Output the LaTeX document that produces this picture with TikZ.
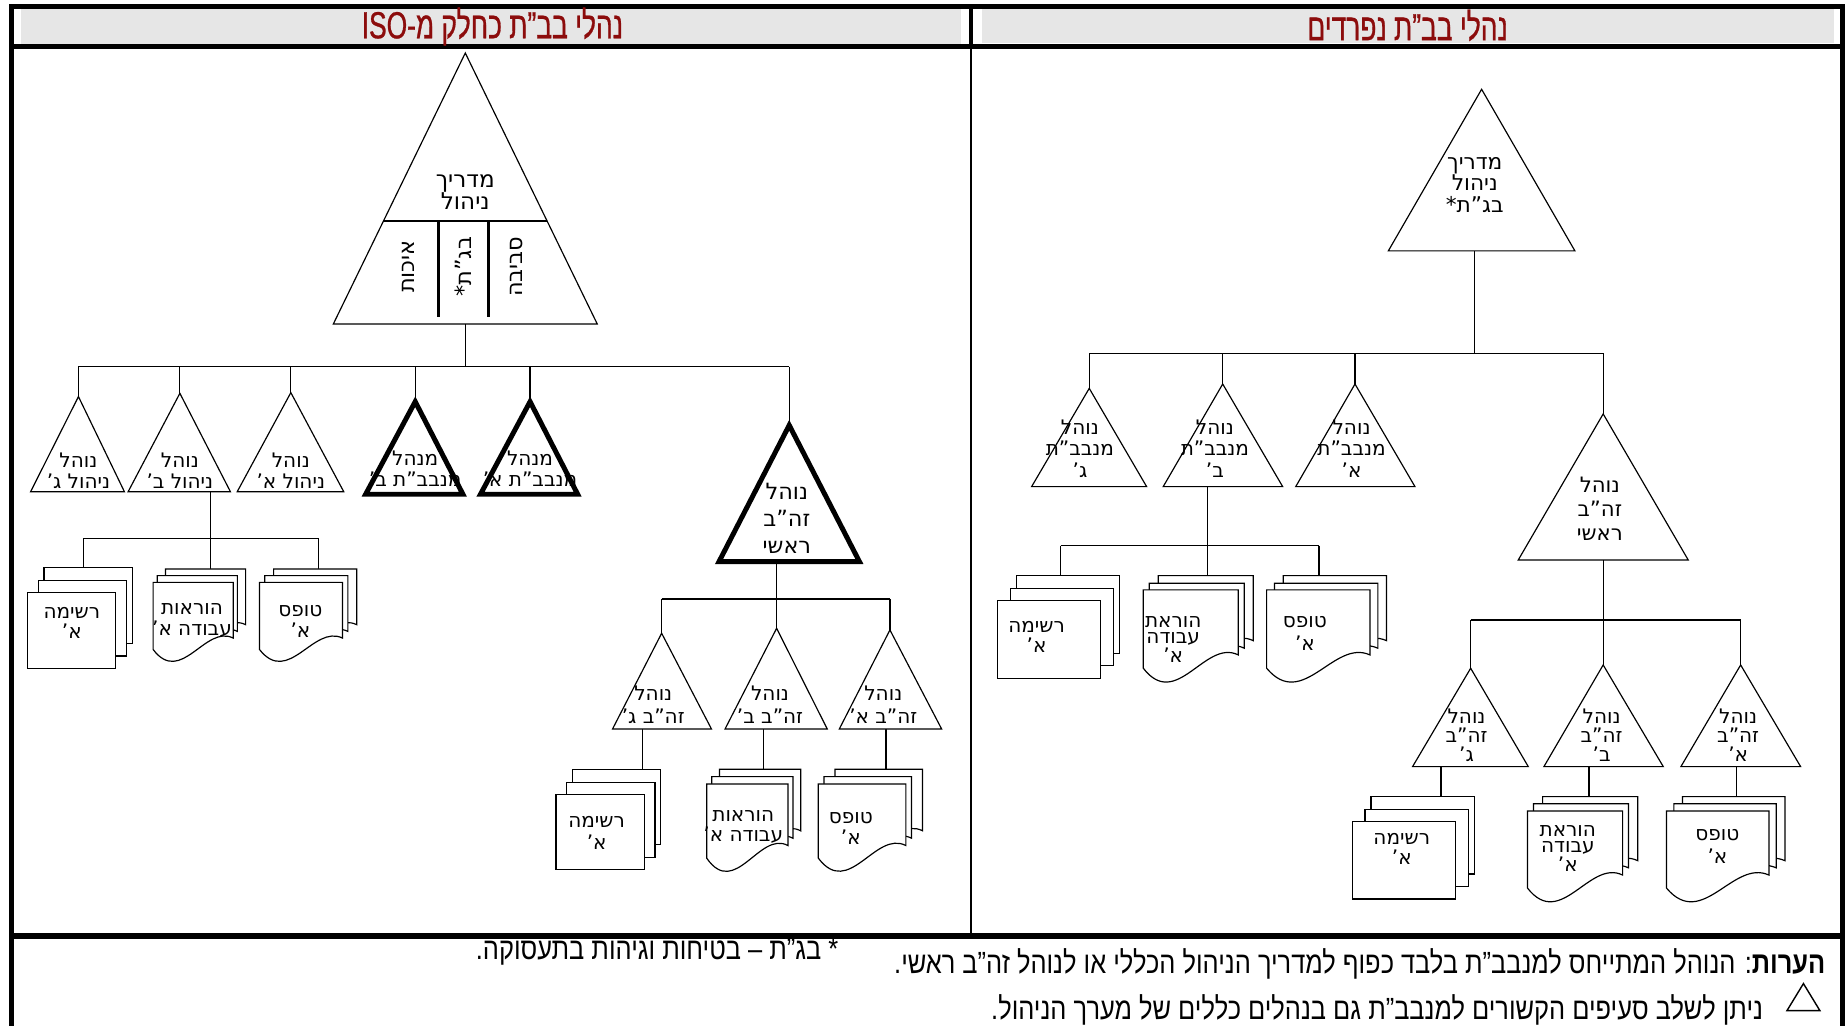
\documentclass[tikz,border=0pt]{standalone}
\usepackage{fontspec}
\setmainfont{DejaVu Sans}
\newfontfamily\heb[Script=Hebrew]{DejaVu Sans}
\newfontfamily\narrowheb[Script=Hebrew,FakeStretch=0.83]{Liberation Sans}
\newfontfamily\headheb[Script=Hebrew,FakeStretch=0.7,FakeBold=0.8]{Liberation Sans}
\TeXXeTstate=1
\newcommand{\R}[1]{\beginR#1\endR}
\definecolor{headred}{RGB}{140,12,12}
\definecolor{headgray}{RGB}{230,230,230}

% triangle: [style]{name}{apex x}{apex y}{base left x}{base right x}{base y}
\newcommand{\tria}[7][tri]{%
  \coordinate (#2) at (#3,#4);
  \path[#1] (#3,#4) -- (#5,#7) -- (#6,#7) -- cycle;}
% stack of three sheets: {x}{y}{w}{h}{dx1}{dy1}{dx2}{dy2}
\newcommand{\rstack}[8]{%
  \path[sheet] ({#1+#7},{#2+#8}) rectangle ++(#3,#4);
  \path[sheet] ({#1+#5},{#2+#6}) rectangle ++(#3,#4);
  \path[sheet] (#1,#2) rectangle ++(#3,#4);}
% single document sheet with a wavy lower edge: {x}{y}{w}{h}
\newcommand{\docsheet}[4]{%
  \path[sheet] ({#1},{#2}) -- ({#1+#3},{#2}) -- ({#1+#3},{#2+0.83*#4})
    .. controls ({#1+0.65*#3},{#2+0.62*#4}) and ({#1+0.35*#3},{#2+1.55*#4}) ..
    ({#1},{#2+#4}) -- cycle;}
\newcommand{\dstack}[8]{%
  \docsheet{#1+#7}{#2+#8}{#3}{#4}%
  \docsheet{#1+#5}{#2+#6}{#3}{#4}%
  \docsheet{#1}{#2}{#3}{#4}}

\begin{document}
\begin{tikzpicture}[x=0.5pt,y=-0.5pt,
  wire/.style={line width=0.5pt},
  tri/.style={draw,line width=0.5pt,fill=white},
  boldtri/.style={draw,line width=2.1pt,fill=white,line join=miter},
  sheet/.style={draw,line width=0.5pt,fill=white},
  lbl/.style 2 args={font=\heb\fontsize{#1}{#2}\selectfont,align=center,inner sep=0pt},
  headtxt/.style={font=\headheb\fontsize{16}{18}\selectfont,text=headred,inner sep=0pt},
  note/.style={font=\narrowheb\fontsize{13}{15}\selectfont,inner sep=0pt},
  rule/.style={line width=2.1pt}]
\useasboundingbox (0,0) rectangle (1568,871);

% ---------- frame and headers ----------
\fill[headgray] (17.8,7.6) rectangle (815.8,37.4);
\fill[headgray] (833.6,7.6) rectangle (1557,36.5);
\draw[rule,line join=miter] (9.8,871) -- (9.8,5.5) -- (1564,5.5) -- (1564,871);
\draw[rule] (9.8,39.5) -- (1564,39.5);
\draw[rule] (824.3,5.5) -- (824.3,39.5);
\draw[line width=1pt] (824.3,39.5) -- (824.3,794.5);
\draw[line width=2.3pt] (9.8,794.5) -- (1564,794.5);
\node[headtxt] (hl) at (418,22.5) {\R{נהלי בב”ת כחלק מ-ISO}};
\node[headtxt] (hr) at (1195,21.5) {\R{נהלי בב”ת נפרדים}};

% ---------- left panel: connectors ----------
\coordinate (T0b) at (395,275);
\coordinate (bus1) at (395,311.3);
\coordinate (c1) at (66.6,336.7);
\coordinate (c2) at (152.7,333.9);
\coordinate (c3) at (246.9,333.3);
\coordinate (c4) at (352.5,341);
\coordinate (c5) at (450,341);
\coordinate (c6) at (670,361);
\draw[wire] (T0b) -- (bus1);
\draw[wire] (c1 |- bus1) -- (c6 |- bus1);
\foreach \nn in {c1,c2,c3,c4,c5,c6} \draw[wire] (\nn |- bus1) -- (\nn);

\coordinate (c2b) at (178.7,417.4);
\coordinate (bus2) at (178.7,457);
\coordinate (dA) at (70.8,481.8);
\coordinate (dB) at (178.7,483);
\coordinate (dC) at (270.6,483);
\draw[wire] (c2b) -- (bus2);
\draw[wire] (dA |- bus2) -- (dC |- bus2);
\foreach \nn in {dA,dB,dC} \draw[wire] (\nn |- bus2) -- (\nn);

\coordinate (c6b) at (659.3,476.8);
\coordinate (bus3) at (659.3,508.5);
\coordinate (c7) at (561.7,537.6);
\coordinate (c8) at (659.3,533.4);
\coordinate (c9) at (755.5,534.8);
\draw[wire] (c6b) -- (bus3);
\draw[wire] (c7 |- bus3) -- (c9 |- bus3);
\foreach \nn in {c7,c8,c9} \draw[wire] (\nn |- bus3) -- (\nn);
\coordinate (c7b) at (545.6,618.9); \coordinate (dD) at (545.6,653);
\coordinate (c8b) at (648,618.9);   \coordinate (dE) at (648,653);
\coordinate (c9b) at (752.2,618.9); \coordinate (dF) at (752.2,653);
\draw[wire] (c7b) -- (dD);
\draw[wire] (c8b) -- (dE);
\draw[wire] (c9b) -- (dF);

% ---------- left panel: shapes ----------
\tria{T0}{395}{45}{283}{507}{275}
\draw[line width=0.85pt] (325.6,187.6) -- (464.4,187.6);
\draw[line width=1.15pt] (372,187.6) -- (372,269.3);
\draw[line width=1.15pt] (415,187.6) -- (415,269.3);
\tria{c1}{66.6}{336.7}{26}{105.6}{417.4}
\tria{c2}{152.7}{333.9}{108.8}{195.6}{417.4}
\tria{c3}{246.9}{333.3}{201.4}{291.8}{417.4}
\tria[boldtri]{c4}{352.5}{341}{310.4}{393}{419.6}
\tria[boldtri]{c5}{450}{341}{407.9}{490.4}{419.6}
\tria[boldtri]{c6}{670}{361}{610.4}{729.6}{476.8}
\rstack{23.4}{503.3}{75}{64.3}{9.1}{-10.7}{14}{-21.5}
\dstack{130}{494.4}{68}{57}{3.5}{-5.7}{10.5}{-11.4}
\dstack{220.3}{494.4}{70.5}{57}{4.5}{-5.7}{12}{-11.4}
\tria{c7}{561.7}{537.6}{520}{604}{618.9}
\tria{c8}{659.3}{533.4}{615.5}{702.3}{618.9}
\tria{c9}{755.5}{534.8}{712.5}{799.4}{618.9}
\rstack{472}{674.3}{75}{64.2}{9}{-10.2}{13.8}{-21.3}
\dstack{600}{665.5}{69}{63.1}{4.2}{-6.2}{10.8}{-12.5}
\dstack{694.7}{665.5}{74.3}{63}{4.8}{-6.2}{14.2}{-12.5}

% ---------- left panel: labels ----------
\node[lbl={9.8}{9.3}] (tT0) at (395,163.4) {\R{מדריך}\\\R{ניהול}};
\node[lbl={9.5}{9}, rotate=90] (tq) at (346.7,226.4) {\R{איכות}};
\node[lbl={9.5}{9}, rotate=90] (ts) at (393.3,226.4) {\R{בג”ת*}};
\node[lbl={9.5}{9}, rotate=90] (te) at (438.6,226.4) {\R{סביבה}};
\node[lbl={8.5}{8.9}] (tc1) at (66.6,399.4) {\R{נוהל}\\\R{ניהול ג’}};
\node[lbl={8.5}{8.9}] (tc2) at (152.7,399.4) {\R{נוהל}\\\R{ניהול ב’}};
\node[lbl={8.5}{8.9}] (tc3) at (246.9,399.4) {\R{נוהל}\\\R{ניהול א’}};
\node[lbl={8.5}{8.8}] (tc4) at (352.5,397.8) {\R{מנהל}\\\R{מנבב”ת ב’}};
\node[lbl={8.5}{8.8}] (tc5) at (450,397.8) {\R{מנהל}\\\R{מנבב”ת א’}};
\node[lbl={9.5}{11.3}] (tc6) at (668,440) {\R{נוהל}\\\R{זה”ב}\\\R{ראשי}};
\node[lbl={8.5}{8.5}] (tA) at (61,528.8) {\R{רשימה}\\\R{א’}};
\node[lbl={8.5}{9.2}] (tB) at (163,526.7) {\R{הוראות}\\\R{עבודה א’}};
\node[lbl={8.5}{8.9}] (tC) at (255,527.9) {\R{טופס}\\\R{א’}};
\node[lbl={8.5}{9.9}] (tc7) at (554.6,598.5) {\R{נוהל}\\\R{זה”ב ג’}};
\node[lbl={8.5}{9.9}] (tc8) at (653.7,598.5) {\R{נוהל}\\\R{זה”ב ב’}};
\node[lbl={8.5}{9.9}] (tc9) at (749.9,598.5) {\R{נוהל}\\\R{זה”ב א’}};
\node[lbl={8.5}{9.25}] (tD) at (506.5,706.8) {\R{רשימה}\\\R{א’}};
\node[lbl={8.5}{8.5}] (tE) at (631,701.8) {\R{הוראות}\\\R{עבודה א’}};
\node[lbl={8.5}{8.9}] (tF) at (722.3,703.6) {\R{טופס}\\\R{א’}};

% ---------- right panel: connectors ----------
\coordinate (R0b) at (1252,213);
\coordinate (rbus1) at (1252,300);
\coordinate (d1) at (924.7,329.7);
\coordinate (d2) at (1038,326);
\coordinate (d3) at (1150.3,326);
\coordinate (R1) at (1361,351.4);
\draw[wire] (R0b) -- (rbus1);
\draw[wire] (d1 |- rbus1) -- (R1 |- rbus1);
\foreach \nn in {d1,d2,d3,R1} \draw[wire] (\nn |- rbus1) -- (\nn);

\coordinate (d2b) at (1024.9,413.1);
\coordinate (rbus2) at (1024.9,463.2);
\coordinate (dG) at (900.4,488.7);
\coordinate (dH) at (1024.9,488.7);
\coordinate (dI) at (1119.7,488.7);
\draw[wire] (d2b) -- (rbus2);
\draw[wire] (dG |- rbus2) -- (dI |- rbus2);
\foreach \nn in {dG,dH,dI} \draw[wire] (\nn |- rbus2) -- (\nn);

\coordinate (R1b) at (1361,475.4);
\coordinate (rbus3) at (1361,526.3);
\coordinate (e1) at (1248.5,567.3);
\coordinate (e2) at (1361,564.5);
\coordinate (e3) at (1477.7,564.5);
\draw[wire] (R1b) -- (rbus3);
\draw[wire] (e1 |- rbus3) -- (e3 |- rbus3);
\foreach \nn in {e1,e2,e3} \draw[wire] (\nn |- rbus3) -- (\nn);
\coordinate (e1b) at (1223.3,650.8); \coordinate (dJ) at (1223.3,676.3);
\coordinate (e2b) at (1349,650.8);   \coordinate (dK) at (1349,676.3);
\coordinate (e3b) at (1474.3,650.8); \coordinate (dL) at (1474.3,676.3);
\draw[wire] (e1b) -- (dJ);
\draw[wire] (e2b) -- (dK);
\draw[wire] (e3b) -- (dL);

% ---------- right panel: shapes ----------
\tria{R0}{1257.8}{75.8}{1178.6}{1337}{213}
\tria{d1}{924.7}{329.7}{875.8}{973.4}{413.1}
\tria{d2}{1038}{326}{987.5}{1088.9}{413.1}
\tria{d3}{1150.3}{326}{1100}{1201.2}{413.1}
\tria{R1}{1361}{351.4}{1288.9}{1433.2}{475.4}
\rstack{847}{510}{87.4}{65.8}{10.7}{-10.6}{16}{-21.3}
\dstack{970.6}{500.8}{80.6}{66.5}{5.1}{-5.7}{12.7}{-12.1}
\dstack{1075.3}{500.8}{87.7}{66.5}{6.7}{-5.7}{14.1}{-12.1}
\tria{e1}{1248.5}{567.3}{1199.2}{1297.4}{650.8}
\tria{e2}{1361}{564.5}{1310.7}{1412}{650.8}
\tria{e3}{1477.7}{564.5}{1427}{1528.6}{650.8}
\rstack{1148}{697.5}{87.7}{65.7}{10.8}{-10.5}{15.9}{-21.2}
\dstack{1296.8}{688.5}{80.7}{65.5}{5}{-6.1}{12.8}{-12.2}
\dstack{1414.8}{688.5}{86.9}{65.5}{6.2}{-6.1}{13.6}{-12.2}

% ---------- right panel: labels ----------
\node[lbl={9.2}{9.2}] (tR0) at (1252,157) {\R{מדריך}\\\R{ניהול}\\\R{בג”ת*}};
\node[lbl={8.5}{9.2}] (td1) at (916.8,380.9) {\R{נוהל}\\\R{מנבב”ת}\\\R{ג’}};
\node[lbl={8.5}{9.2}] (td2) at (1031.4,380.9) {\R{נוהל}\\\R{מנבב”ת}\\\R{ב’}};
\node[lbl={8.5}{9.2}] (td3) at (1147.4,380.9) {\R{נוהל}\\\R{מנבב”ת}\\\R{א’}};
\node[lbl={9}{10.1}] (tR1) at (1358.2,432.1) {\R{נוהל}\\\R{זה”ב}\\\R{ראשי}};
\node[lbl={8.5}{8.5}] (tG) at (880,540.5) {\R{רשימה}\\\R{א’}};
\node[lbl={8.5}{6.9}] (tH) at (996,542.6) {\R{הוראת}\\\R{עבודה}\\\R{א’}};
\node[lbl={8.5}{10}] (tI) at (1107.8,537.7) {\R{טופס}\\\R{א’}};
\node[lbl={8.5}{7.9}] (te1) at (1245,624.1) {\R{נוהל}\\\R{זה”ב}\\\R{ג’}};
\node[lbl={8.5}{7.9}] (te2) at (1359.7,624.1) {\R{נוהל}\\\R{זה”ב}\\\R{ב’}};
\node[lbl={8.5}{7.9}] (te3) at (1475.6,624.1) {\R{נוהל}\\\R{זה”ב}\\\R{א’}};
\node[lbl={8.5}{8.5}] (tJ) at (1190,720.5) {\R{רשימה}\\\R{א’}};
\node[lbl={8.5}{6.6}] (tK) at (1331,720.2) {\R{הוראת}\\\R{עבודה}\\\R{א’}};
\node[lbl={8.5}{9.9}] (tL) at (1458,718.7) {\R{טופס}\\\R{א’}};

% ---------- notes ----------
\node[note,anchor=east] (n0) at (712,808) {\R{* בג”ת – בטיחות וגיהות בתעסוקה.}};
\node[note,anchor=east] (n1) at (1550,818) {\R{\textbf{הערות}: הנוהל המתייחס למנבב”ת בלבד כפוף למדריך הניהול הכללי או לנוהל זה”ב ראשי.}};
\node[note,anchor=east] (n2) at (1497,857) {\R{ניתן לשלב סעיפים הקשורים למנבב”ת גם בנהלים כללים של מערך הניהול.}};
\draw[line width=0.6pt] (1517,858) -- (1545,858) -- (1531,835) -- cycle;
\end{tikzpicture}
\end{document}
